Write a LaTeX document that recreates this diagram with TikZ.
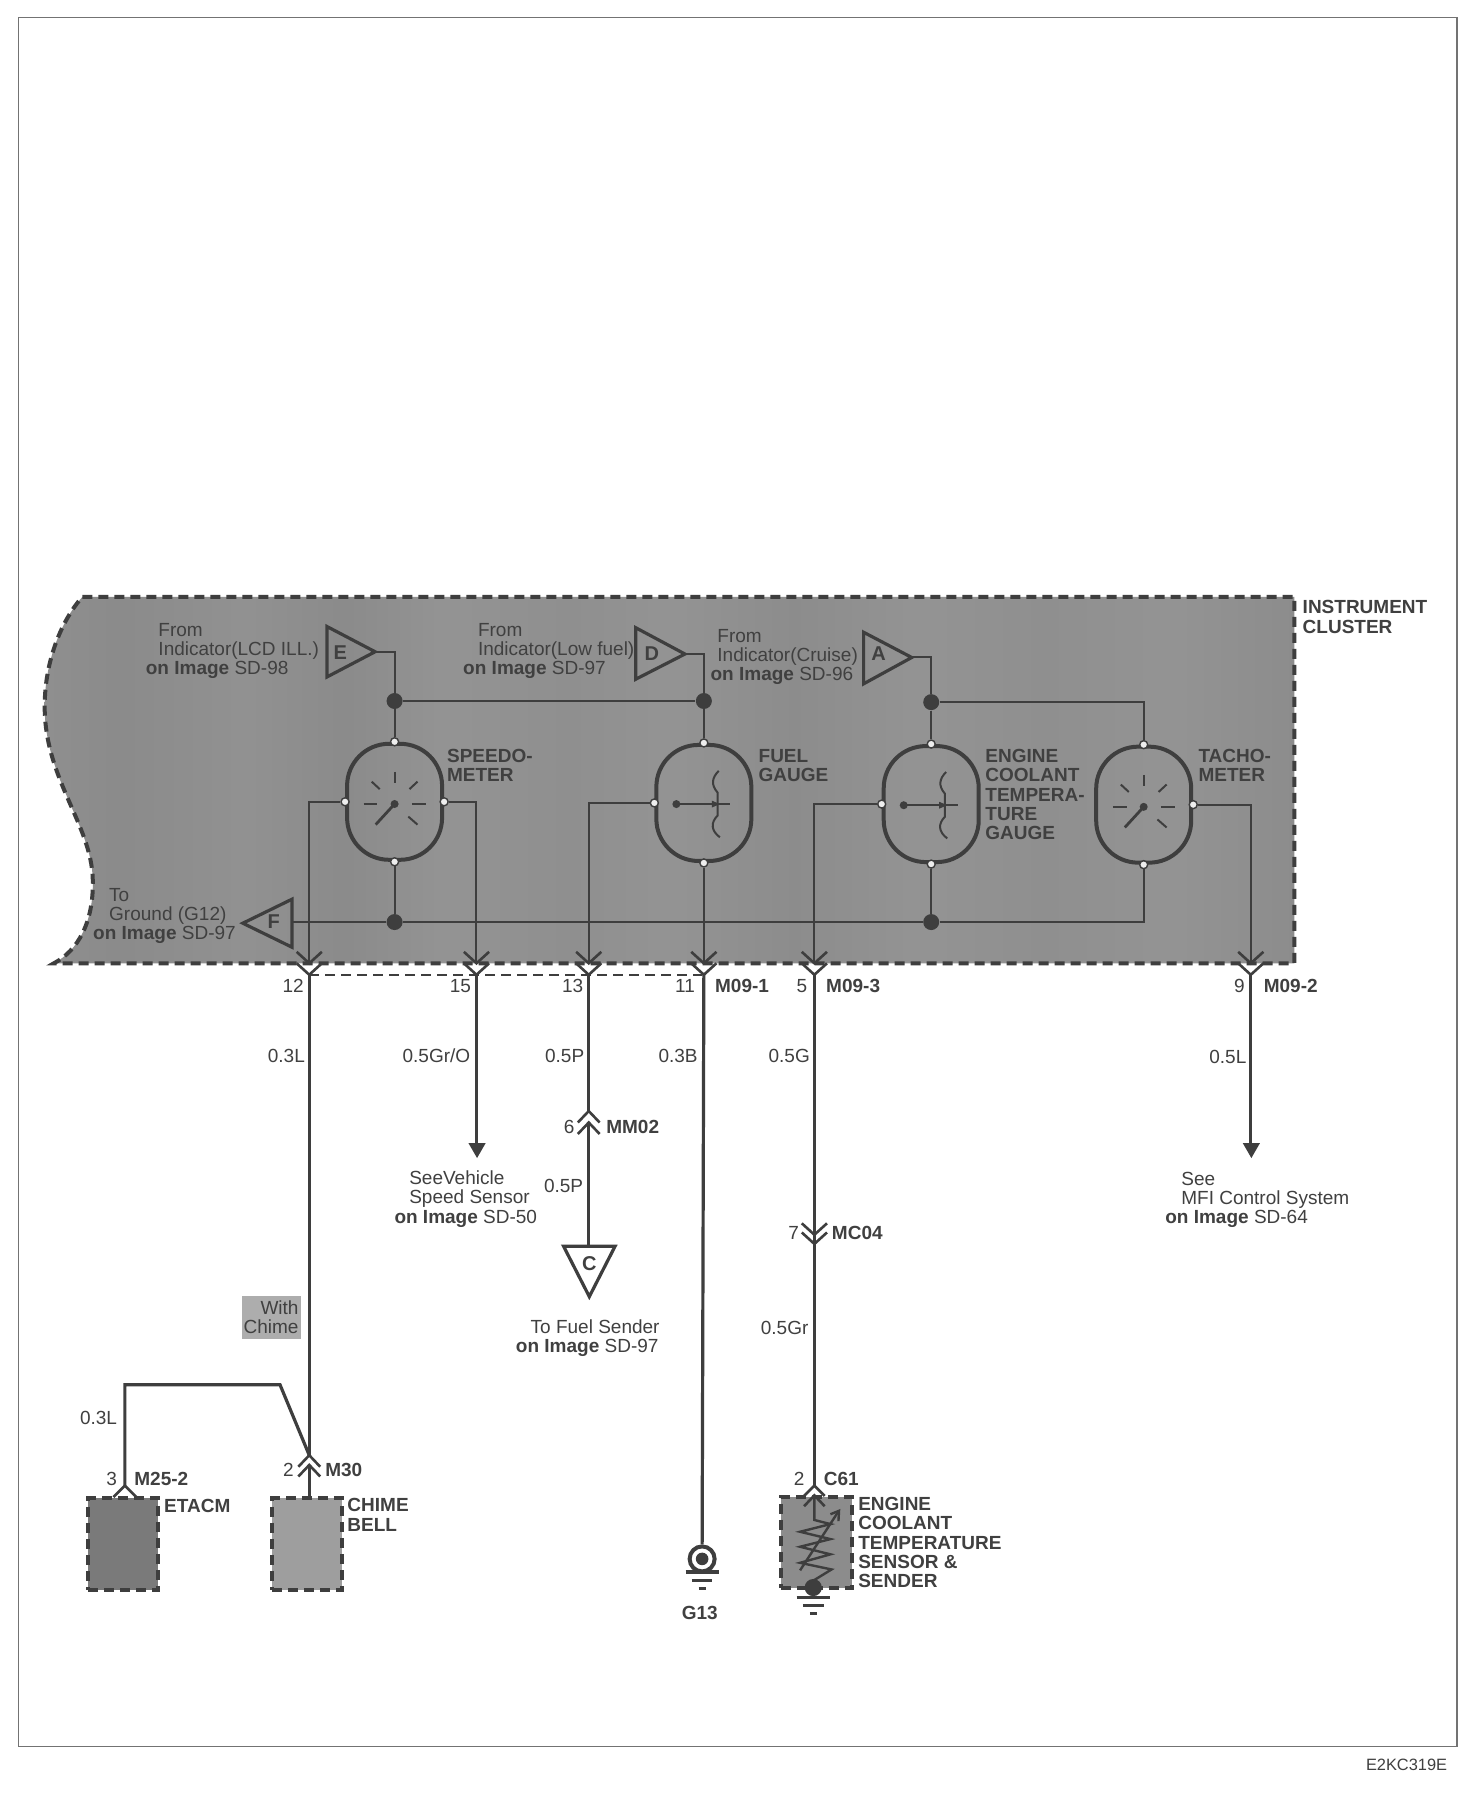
\documentclass[tikz,border=0pt]{standalone}
\usepackage{fontspec}
\setmainfont{Liberation Sans}
\definecolor{ink}{HTML}{3E3E3E}
\definecolor{txt}{HTML}{404040}
\definecolor{panel}{HTML}{8F8F8F}
\pgfdeclarehorizontalshading{panelbands}{100bp}{
  color(0bp)=(panel); color(25bp)=(panel);
  color(28bp)=(panel!97!black); color(33bp)=(panel!98!white);
  color(37bp)=(panel!97!black); color(41bp)=(panel!96!white);
  color(46bp)=(panel); color(50bp)=(panel!96!white);
  color(55bp)=(panel!98!black); color(60bp)=(panel!96!white);
  color(65bp)=(panel); color(70bp)=(panel!96!white);
  color(75bp)=(panel!98!black); color(100bp)=(panel)}
\newcommand{\panelpath}{(72,521) -- (1130,521) -- (1130,841) -- (47,841)
  .. controls (68,830) and (82,805) .. (81,768)
  .. controls (80,720) and (39,680) .. (39,617)
  .. controls (39,575) and (55,540) .. (72,521)}
\newcommand{\obold}[1]{\textbf{on Image} #1}
\newcommand{\chevd}[2]{\draw[chev] (#1-11,#2-10) -- (#1,#2) -- (#1+11,#2-10);}
\newcommand{\chevu}[2]{\draw[chev] (#1-9.5,#2+10) -- (#1,#2) -- (#1+9.5,#2+10);}
\newcommand{\gnd}[2]{%
  \draw[gndl] (#1-14.5,#2) -- (#1+14.5,#2);
  \draw[gndl] (#1-9,#2+7) -- (#1+9,#2+7);
  \draw[gndl] (#1-3,#2+14) -- (#1+3,#2+14);}
\newcommand{\dial}[1]{\begin{scope}[shift={(#1.center)},yshift=-1.1pt]
  \draw[mark1] (0,-28) -- (0,-18);
  \draw[mark1] (-27,0) -- (-15,0);
  \draw[mark1] (15,0) -- (27,0);
  \draw[mark1] (-20,-19.5) -- (-13,-13);
  \draw[mark1] (20,-19.5) -- (13,-13);
  \draw[mark1] (12,11) -- (20,18);
  \draw[mark1,line width=1.4pt] (0,0) -- (-16.5,18);
  \fill[ink] (0,0) circle (3.5);
\end{scope}}
\newcommand{\fuel}[1]{\begin{scope}[shift={(#1.center)}]
  \draw[mark1] (13,-28) .. controls (7,-22) and (6,-16) .. (12,-9) -- (12,11) .. controls (6,17) and (6,24) .. (14,30);
  \draw[mark1] (-24,1) -- (23,1);
  \fill[ink] (-24,1) circle (3.5);
  \fill[ink] (14,1) -- (7,-2) -- (7,4) -- cycle;
\end{scope}}
\tikzset{
  wire/.style={draw=ink,line width=1pt},
  heavy/.style={draw=ink,line width=1.6pt},
  chev/.style={draw=ink,line width=1.3pt,line join=miter},
  gndl/.style={draw=ink,line width=1.6pt},
  mark1/.style={draw=ink,line width=1pt},
  dot/.style={circle,fill=ink,inner sep=0pt,minimum size=8pt},
  port/.style={circle,draw=ink,fill=white!85!panel,line width=0.7pt,inner sep=0pt,minimum size=4pt},
  gauge/.style={draw=ink,line width=2pt,rounded corners=21pt,minimum width=47.5pt,minimum height=58pt,inner sep=0pt},
  flag/.style={draw=ink,line width=1.6pt,line join=miter},
  dashedge/.style={draw=ink,line width=2pt,dash pattern=on 5pt off 3pt},
  lbl/.style={font=\fontsize{9.5}{9.6}\selectfont,text=txt,align=left,inner sep=0pt,anchor=west},
  blbl/.style={lbl,font=\fontsize{9.5}{9.6}\selectfont\bfseries},
  num/.style={font=\fontsize{9.5}{9.6}\selectfont,text=txt,inner sep=0pt},
  flagl/.style={font=\fontsize{10}{10}\selectfont\bfseries,text=txt,inner sep=0pt},
}
\begin{document}
\begin{tikzpicture}[x=0.5727pt,y=-0.5727pt]
\useasboundingbox (0,0) rectangle (1280,1568);
\fill[white] (0,0) rectangle (1280,1568);
% page frame
\draw[draw=black!55,line width=0.6pt] (16,15) rectangle (1272,1525);
\node[font=\fontsize{8.2}{9}\selectfont,text=txt,inner sep=0pt] (code) at (1228,1541) {E2KC319E};

% cluster panel
\shade[shading=panelbands] \panelpath;
\draw[dashedge] \panelpath;
\draw[draw=ink,line width=1pt,dash pattern=on 5pt off 3pt] (270,851) -- (613,851);

% gauges
\node[gauge] (sp) at (344.5,700) {};
\node[gauge] (fu) at (614.5,701) {};
\node[gauge] (co) at (813,702) {};
\node[gauge] (ta) at (998.5,702.5) {};
\dial{sp}\fuel{fu}\fuel{co}\dial{ta}

% ports
\node[port] (spT) at (sp.north) {};
\node[port] (spB) at (sp.south) {};
\node[port] (spL) at (sp.west) {};
\node[port] (spR) at (sp.east) {};
\node[port] (fuT) at (fu.north) {};
\node[port] (fuB) at (fu.south) {};
\node[port] (fuL) at (fu.west) {};
\node[port] (coT) at (co.north) {};
\node[port] (coB) at (co.south) {};
\node[port] (coL) at (co.west) {};
\node[port] (taT) at (ta.north) {};
\node[port] (taB) at (ta.south) {};
\node[port] (taR) at (ta.east) {};

% input flags
\draw[flag] (285.5,547) -- (285.5,591) -- (327.5,569) -- cycle;
\coordinate (tipE) at (327.5,569);
\node[flagl] (E) at (297,570) {E};
\draw[flag] (555,548) -- (555,593) -- (598,571) -- cycle;
\coordinate (tipD) at (598,571);
\node[flagl] (D) at (569,571) {D};
\draw[flag] (754,552) -- (754,597) -- (796,574) -- cycle;
\coordinate (tipA) at (796,574);
\node[flagl] (A) at (767,571) {A};
\draw[flag] (255,785) -- (255,827) -- (212,806) -- cycle;
\coordinate (baseF) at (255,805);
\node[flagl] (F) at (239,805) {F};

% junctions
\node[dot] (jE) at (344.5,612) {};
\node[dot] (jD) at (614.5,612) {};
\node[dot] (jA) at (813,613) {};
\node[dot] (jS) at (344.5,805) {};
\node[dot] (jC) at (813,805) {};

% connector points at panel edge
\foreach \n/\xx in {c12/270,c15/416,c13/514,c11/614.5,c5/711,c9/1092}{
  \coordinate (\n) at (\xx,841);
  \coordinate (\n b) at (\xx,851);
  \chevd{\xx}{841}
  \chevd{\xx}{851}
}

% wires in panel
\draw[wire] (tipE) -| (jE);
\draw[wire] (tipD) -| (jD);
\draw[wire] (tipA) -| (jA);
\draw[wire] (jE) -- (spT);
\draw[wire] (jD) -- (fuT);
\draw[wire] (jA) -- (coT);
\draw[wire] (jE) -- (jD);
\draw[wire] (jA) -| (taT);
\draw[wire] (baseF) -- (jS) -- (jC) -| (taB);
\draw[wire] (spB) -- (jS);
\draw[wire] (coB) -- (jC);
\draw[wire] (spL) -| (c12);
\draw[wire] (spR) -| (c15);
\draw[wire] (fuL) -| (c13);
\draw[wire] (fuB) -- (c11);
\draw[wire] (coL) -| (c5);
\draw[wire] (taR) -| (c9);

% lower connectors and end items
\coordinate (m30a) at (270,1270.5);
\coordinate (m30b) at (270,1279);
\chevu{270}{1270.5}
\chevu{270}{1279}
\coordinate (elbowR) at (244.5,1209);
\coordinate (elbowL) at (109,1209);
\coordinate (m25) at (109,1297);
\draw[chev] (99,1307) -- (109,1297) -- (119,1307);
\node[fill=black!52,draw=ink,line width=2pt,dash pattern=on 5pt off 3pt,minimum width=35pt,minimum height=45.8pt,inner sep=0pt] (etacm) at (107.5,1348) {};
\node[fill=black!38,draw=ink,line width=2pt,dash pattern=on 5pt off 3pt,minimum width=35pt,minimum height=45.8pt,inner sep=0pt] (chime) at (268,1348) {};
\draw[heavy] (c12b) -- (m30a);
\draw[heavy] (m30a) -- (elbowR) -- (elbowL) -- (m25);
\draw[heavy] (m30b) -- (m30b |- chime.north);
\node[fill=black!32,minimum width=29.8pt,minimum height=21.4pt,inner sep=0pt] (withbox) at (237,1150.5) {};
\node[num,align=right,anchor=north east] (with) at (261,1135) {With\\Chime};

% 15: arrow
\coordinate (a15) at (416,998);
\draw[heavy] (c15b) -- (a15);
\fill[ink] (409,998) -- (424,998) -- (416.5,1011) -- cycle;
% 13: MM02 and flag C
\coordinate (mm) at (514,970);
\coordinate (mm2) at (514,980);
\chevu{514}{970}
\chevu{514}{980}
\draw[heavy] (c13b) -- (mm);
\draw[flag,fill=white] (492,1088) -- (537,1088) -- (514.5,1132) -- cycle;
\coordinate (cT) at (514,1088);
\node[flagl] (C) at (514.5,1103) {C};
\draw[heavy] (mm2) -- (cT);
% 11: ground G13
\node[circle,draw=ink,line width=2pt,fill=white,minimum size=12.5pt,inner sep=0pt] (g13) at (613,1361) {};
\fill[ink] (g13.center) circle (5.5);
\draw[heavy] (c11b) -- (g13.north);
\gnd{613}{1372.5}
% 5: MC04, C61, sensor
\coordinate (mc) at (711,1078);
\coordinate (mc2) at (711,1086);
\chevd{711}{1078}
\chevd{711}{1086}
\draw[heavy] (c5b) -- (mc2);
\node[fill=black!45,draw=ink,line width=2pt,dash pattern=on 5pt off 3pt,minimum width=35.5pt,minimum height=45.6pt,inner sep=0pt] (sensor) at (712.5,1346.5) {};
\coordinate (c61) at (711,1297);
\draw[chev] (702,1306) -- (711,1297) -- (720,1306);
\draw[heavy] (mc2) -- (c61);
\draw[chev] (702,1315) -- (711,1305.5) -- (720,1315);
\draw[wire,line width=1.2pt,line join=miter] (711,1305.5) -- (711,1327) -- (725,1330.6) -- (698.5,1337.3) -- (725,1343.7) -- (698.5,1350.4) -- (725,1357) -- (698.5,1364.4) -- (726,1370.2) -- (710,1380);
\draw[wire,line width=1.2pt] (698.5,1371) -- (731.9,1319.7);
\draw[wire,line width=1.2pt] (725,1322) -- (732.5,1319) -- (732,1328);
\fill[ink] (710,1386) circle (7.5);
\gnd{710}{1394.7}
% 9: arrow
\coordinate (a9) at (1092,998);
\draw[heavy] (c9b) -- (a9);
\fill[ink] (1085,998) -- (1100,998) -- (1092.5,1011) -- cycle;

% panel texts
\node[lbl,anchor=north west] (tE) at (138,544) {From\\Indicator(LCD ILL.)\\\hspace*{-6.3pt}\obold{SD-98}};
\node[lbl,anchor=north west] (tD) at (417,544) {From\\Indicator(Low fuel)\\\hspace*{-7.4pt}\obold{SD-97}};
\node[lbl,anchor=north west] (tA) at (626,549) {From\\Indicator(Cruise)\\\hspace*{-3.4pt}\obold{SD-96}};
\node[lbl,anchor=north west] (tF) at (95,775) {To\\Ground (G12)\\\hspace*{-8pt}\obold{SD-97}};
\node[blbl,anchor=north west] (tsp) at (390,654) {SPEEDO-\\METER};
\node[blbl,anchor=north west] (tfu) at (662,654) {FUEL\\GAUGE};
\node[blbl,anchor=north west] (tco) at (860,654) {ENGINE\\COOLANT\\TEMPERA-\\TURE\\GAUGE};
\node[blbl,anchor=north west] (tta) at (1046,654) {TACHO-\\METER};
\node[blbl,anchor=north west] (tcl) at (1137,524) {INSTRUMENT\\CLUSTER};

% pin numbers
\node[num] (n12) at (256,861) {12};
\node[num] (n15) at (402,861) {15};
\node[num] (n13) at (500,861) {13};
\node[num] (n11) at (598,861) {11};
\node[blbl] (m1) at (624,861) {M09-1};
\node[num] (n5) at (700,861) {5};
\node[blbl] (m3) at (721,861) {M09-3};
\node[num] (n9) at (1082,861) {9};
\node[blbl] (m2) at (1103,861) {M09-2};

% wire sizes
\node[num] (w1) at (250,922) {0.3L};
\node[num] (w2) at (381,922) {0.5Gr/O};
\node[num] (w3) at (493,922) {0.5P};
\node[num] (w4) at (592,922) {0.3B};
\node[num] (w5) at (689,922) {0.5G};
\node[num] (w6) at (1072,923) {0.5L};
\node[num] (w7) at (492,1035) {0.5P};
\node[num] (w8) at (685,1159) {0.5Gr};
\node[num] (w9) at (86,1238) {0.3L};

% connector labels
\node[num] (n6) at (497,984) {6};
\node[blbl] (mm02) at (529,984) {MM02};
\node[num] (n7) at (693,1076) {7};
\node[blbl] (mc04) at (726,1076) {MC04};
\node[num] (n3) at (97.5,1291) {3};
\node[blbl] (m252) at (117,1291) {M25-2};
\node[num] (n2) at (251.7,1283) {2};
\node[blbl] (m30) at (283.7,1283) {M30};
\node[num] (n2b) at (697.7,1291) {2};
\node[blbl] (c61l) at (719,1291) {C61};

% component labels
\node[blbl] (tet) at (143,1315) {ETACM};
\node[blbl,anchor=north west] (tch) at (303,1308) {CHIME\\BELL};
\node[blbl,anchor=north west] (tse) at (749,1307) {ENGINE\\COOLANT\\TEMPERATURE\\SENSOR \&\\SENDER};
\node[blbl,anchor=center] (tg13) at (611,1408) {G13};

% reference texts
\node[lbl,anchor=north west] (r1) at (357,1022) {SeeVehicle\\Speed Sensor\\\hspace*{-7.4pt}\obold{SD-50}};
\node[lbl,anchor=north west] (r2) at (1031,1023) {See\\MFI Control System\\\hspace*{-8pt}\obold{SD-64}};
\node[lbl,anchor=north west] (r3) at (463,1152) {To Fuel Sender\\\hspace*{-7.4pt}\obold{SD-97}};
\end{tikzpicture}
\end{document}
